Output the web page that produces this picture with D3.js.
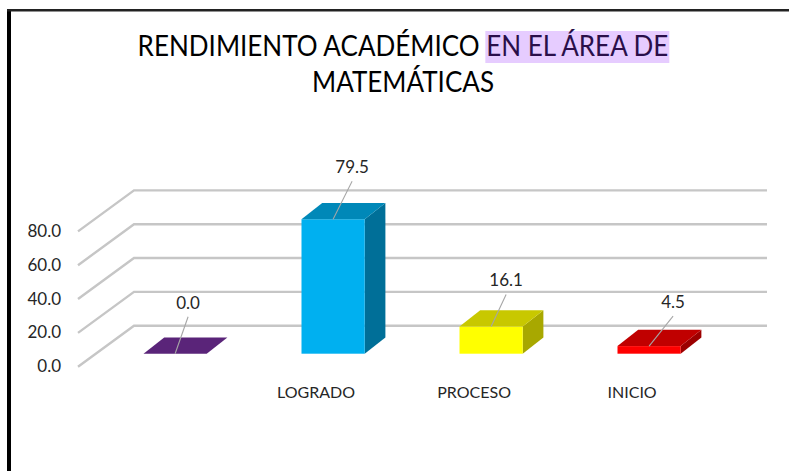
<!DOCTYPE html>
<html>
<head>
<meta charset="utf-8">
<script src="https://cdn.jsdelivr.net/npm/d3@7"></script>
<style>
html,body{margin:0;padding:0;background:#fff;overflow:hidden}
svg{display:block}
text{font-family:Lato,"Open Sans",sans-serif}
</style>
</head>
<body>
<script>
const categories = ["", "LOGRADO", "PROCESO", "INICIO"];
const values = [0.0, 79.5, 16.1, 4.5];
const yTicks = [0, 20, 40, 60, 80];
const titleLead = "RENDIMIENTO ACADÉMICO ";
const titleMark = "EN EL ÁREA DE";
const titleLine2 = "MATEMÁTICAS";

const frontColors = ["#5a2479", "#00b0f0", "#ffff00", "#ff0000"];
const topColors = ["#5a2479", "#0088b8", "#c8c800", "#c00000"];
const sideColors = ["#5a2479", "#006f98", "#a8a800", "#9c0000"];
// leader end relative to bar's top-front centre, per bar
const leaderDx = [13, 19, 15, 24];
const leaderDy = [37, 38, 32, 30];

const W = 789, H = 471;
const svg = d3.select("body").append("svg").attr("width", W).attr("height", H);

// frame
svg.append("rect").attr("x", 7).attr("y", 9).attr("width", 4).attr("height", H - 9).attr("fill", "#000");
svg.append("rect").attr("x", 7).attr("y", 9).attr("width", W - 7).attr("height", 2.5).attr("fill", "#222");

// scales
const y = d3.scaleLinear().domain([0, 80]).range([366.7, 231.4]);
const x = d3.scaleBand().domain(d3.range(categories.length)).range([96.1, 728.1]).paddingInner(0.6).paddingOuter(0.3);
const wall = { dx: 56, dy: -41, right: 767 };
const bar = { dx: 20.7, dy: -16.3, baseDy: -13 };

// gridlines
const grid = svg.append("g");
grid.selectAll("path").data(yTicks).join("path")
  .attr("d", d => {
    const y0 = y(d);
    return `M${78} ${y0}L${78 + wall.dx} ${y0 + wall.dy}H${wall.right}`;
  })
  .attr("fill", "none").attr("stroke", "#c6c6c6").attr("stroke-width", 2.4);

// y axis labels
const axis = d3.axisLeft(y).tickValues(yTicks).tickFormat(d3.format(".1f")).tickSize(0).tickPadding(0);
const gAxis = svg.append("g").attr("transform", "translate(61,-0.5)").call(axis);
gAxis.select(".domain").remove();
gAxis.selectAll("text").style("font-family", "Lato,sans-serif").style("font-size", "17px").attr("fill", "#262626");

// bars
const gBars = svg.append("g");
values.forEach((v, i) => {
  const xl = x(i), xr = xl + x.bandwidth();
  const base = y(0) + bar.baseDy;
  const top = base - (y(0) - y(v));
  if (v > 0) {
    gBars.append("path")
      .attr("d", `M${xr} ${base}L${xr + bar.dx} ${base + bar.dy}V${top + bar.dy}L${xr} ${top}Z`)
      .attr("fill", sideColors[i]);
    gBars.append("rect").attr("x", xl).attr("y", top).attr("width", xr - xl).attr("height", base - top)
      .attr("fill", frontColors[i]);
  }
  gBars.append("path")
    .attr("d", `M${xl} ${top}L${xl + bar.dx} ${top + bar.dy}H${xr + bar.dx}L${xr} ${top}Z`)
    .attr("fill", topColors[i]);
  // leader
  const cx = (xl + xr) / 2;
  const lx = cx + leaderDx[i], ly = top - leaderDy[i];
  svg.append("line").attr("x1", cx).attr("y1", top).attr("x2", lx).attr("y2", ly)
    .attr("stroke", "#a6a6a6").attr("stroke-width", 1.1);
  svg.append("text").attr("x", lx).attr("y", ly - 8).attr("text-anchor", "middle")
    .attr("font-size", 17).attr("fill", "#262626").text(d3.format(".1f")(v));
  // category
  if (categories[i]) {
    svg.append("text").attr("x", cx - 17).attr("y", 398).attr("text-anchor", "middle")
      .attr("font-size", 16).attr("fill", "#262626").text(categories[i]);
  }
});

// title: narrowed horizontally to the reference's condensed lettering
const gTitle = svg.append("g").attr("transform", "translate(403,0) scale(0.93,1)");
const hl = gTitle.append("rect").attr("y", 31).attr("height", 32).attr("fill", "#e6ccff");
const title = gTitle.append("text").attr("x", 0).attr("y", 56).attr("text-anchor", "middle").attr("font-size", 28).attr("fill", "#000");
title.append("tspan").text(titleLead);
title.append("tspan").attr("fill", "#2a0f4a").text(titleMark);
const start = title.node().getSubStringLength(0, titleLead.length);
const total = title.node().getComputedTextLength();
const markLen = title.node().getSubStringLength(titleLead.length, titleMark.length);
hl.attr("x", -total / 2 + start - 1).attr("width", markLen + 2);
gTitle.append("text").attr("x", 0).attr("y", 92).attr("text-anchor", "middle").attr("font-size", 28).attr("fill", "#000").text(titleLine2);
</script>
</body>
</html>
